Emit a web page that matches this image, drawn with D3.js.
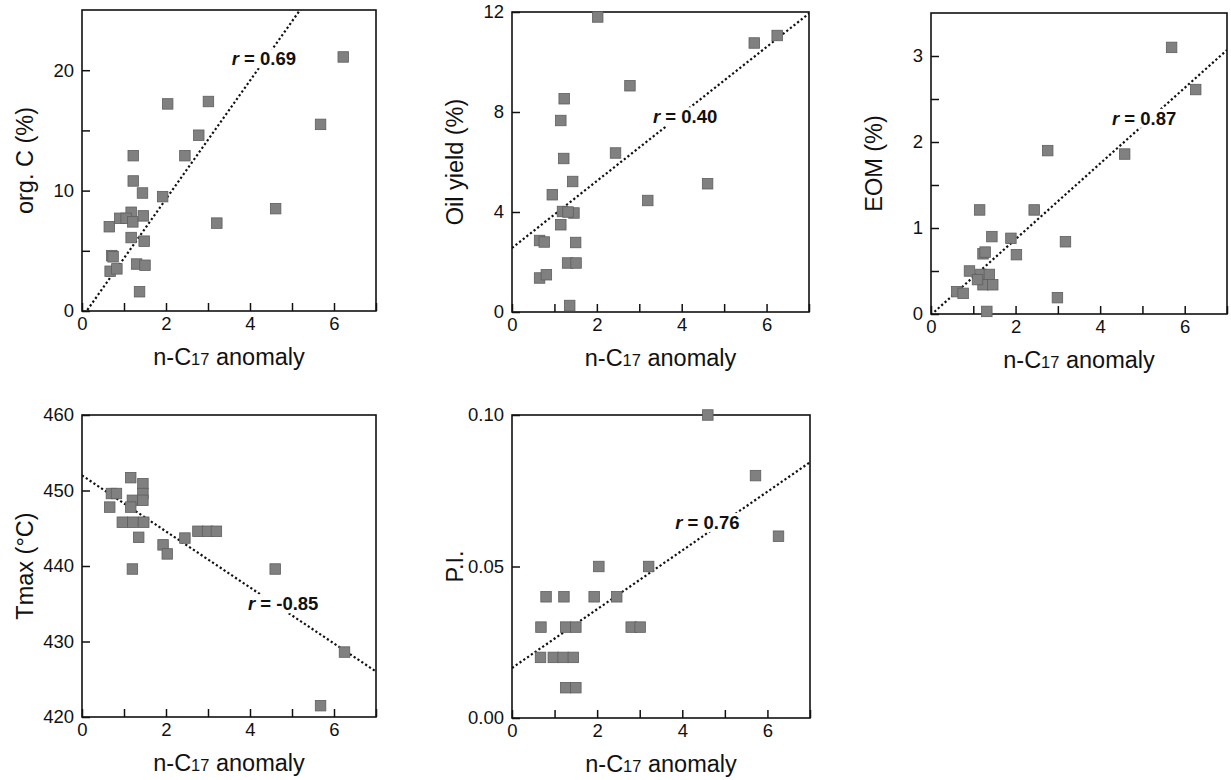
<!DOCTYPE html>
<html><head><meta charset="utf-8">
<script src="https://cdn.jsdelivr.net/npm/d3@7"></script>
<style>
body{margin:0;background:#fff}
svg{display:block}
text{font-family:"Liberation Sans",Arial,Helvetica,sans-serif;fill:#111}
</style>
</head><body>
<svg id="chart" width="1231" height="780"></svg>
<script>
// ---------- DATA ----------
const orgCAnomaly = [6.22,5.68,4.61,3.21,3.01,2.78,2.45,2.04,1.92,1.22,1.22,1.44,1.17,0.90,1.05,1.21,1.46,0.65,1.17,1.48,0.71,0.74,0.67,0.83,1.30,1.50,1.37];
const orgCValues  = [21.1,15.5,8.5,7.3,17.4,14.6,12.9,17.2,9.5,12.9,10.8,9.8,8.2,7.7,7.7,7.4,7.9,7.0,6.1,5.8,4.6,4.5,3.3,3.5,3.9,3.8,1.6];

const oilAnomaly = [2.02,5.71,6.25,2.78,1.23,1.15,2.44,1.22,1.43,4.61,0.95,3.20,1.19,1.46,1.32,1.15,0.65,0.76,1.50,1.31,1.51,0.65,0.81,1.36];
const oilValues  = [11.8,10.76,11.06,9.05,8.53,7.66,6.36,6.14,5.22,5.13,4.69,4.46,4.02,3.96,4.0,3.49,2.86,2.80,2.78,1.96,1.96,1.36,1.49,0.26];

const eomAnomaly = [5.69,6.26,4.58,2.76,2.44,1.15,1.44,1.89,3.18,1.23,1.28,2.02,0.91,1.18,1.38,1.23,1.46,1.10,0.61,0.76,2.99,1.32];
const eomValues  = [3.10,2.61,1.86,1.90,1.21,1.21,0.90,0.88,0.84,0.70,0.72,0.69,0.50,0.46,0.46,0.34,0.34,0.40,0.26,0.24,0.19,0.03];

const tmaxAnomaly = [1.16,1.45,1.45,0.70,0.82,0.66,1.20,1.45,1.16,0.96,1.21,1.47,1.35,1.93,2.03,2.45,2.76,2.99,3.20,1.20,4.60,6.25,5.68];
const tmaxValues  = [451.7,450.9,449.6,449.6,449.6,447.8,448.7,448.7,447.8,445.8,445.8,445.8,443.8,442.8,441.6,443.7,444.6,444.6,444.6,439.6,439.6,428.6,421.5];

const piAnomaly = [4.60,5.72,6.26,2.04,3.21,0.80,1.22,1.93,2.46,0.68,1.26,1.50,2.80,3.01,0.67,0.97,1.20,1.44,1.26,1.50];
const piValues  = [0.10,0.08,0.06,0.05,0.05,0.04,0.04,0.04,0.04,0.03,0.03,0.03,0.03,0.03,0.02,0.02,0.02,0.02,0.01,0.01];

// regression lines: [intercept, slope]
const fitOrgC = [-0.54, 4.92];
const fitOil  = [2.56, 1.34];
const fitEom  = [-0.01, 0.44];
const fitTmax = [452, -3.71];
const fitPi   = [0.0165, 0.0097];

const rValues = ["0.69","0.40","0.87","-0.85","0.76"];
const yTitles = ["org. C (%)","Oil yield (%)","EOM (%)","Tmax (°C)","P.I."];

const xTickValues = [0,1,2,3,4,5,6,7];
const xTickLabels = [0,2,4,6];
const yTicksOrgC = [0,5,10,15,20];  const yLabelsOrgC = [0,10,20];
const yTicksOil  = [0,4,8,12];      const yLabelsOil  = [0,4,8,12];
const yTicksEom  = [0,0.5,1,1.5,2,2.5,3]; const yLabelsEom = [0,1,2,3];
const yTicksTmax = [420,430,440,450,460]; const yLabelsTmax = [420,430,440,450,460];
const yTicksPi   = [0,0.05,0.10];   const yLabelsPi = [0,0.05,0.10];

// ---------- LAYOUT ----------
const panels = [
  {xs:orgCAnomaly, ys:orgCValues, fit:fitOrgC, r:rValues[0], title:yTitles[0], left:82, top:10, w:294, h:301, yDom:[0,25], yTicks:yTicksOrgC, yLabels:yLabelsOrgC, fmt:d=>d, lab:[4.33,20.96]},
  {xs:oilAnomaly, ys:oilValues, fit:fitOil, r:rValues[1], title:yTitles[1], left:512, top:12, w:297, h:300, yDom:[0,12], yTicks:yTicksOil, yLabels:yLabelsOil, fmt:d=>d, lab:[4.08,7.81]},
  {xs:eomAnomaly, ys:eomValues, fit:fitEom, r:rValues[2], title:yTitles[2], left:931, top:13, w:296, h:301, yDom:[0,3.5], yTicks:yTicksEom, yLabels:yLabelsEom, fmt:d=>d, lab:[5.04,2.275]},
  {xs:tmaxAnomaly, ys:tmaxValues, fit:fitTmax, r:rValues[3], title:yTitles[3], left:82, top:415, w:294, h:302, yDom:[420,460], yTicks:yTicksTmax, yLabels:yLabelsTmax, fmt:d=>d, lab:[4.79,435]},
  {xs:piAnomaly, ys:piValues, fit:fitPi, r:rValues[4], title:yTitles[4], left:512, top:415, w:298, h:303, yDom:[0,0.1], yTicks:yTicksPi, yLabels:yLabelsPi, fmt:d3.format(".2f"), lab:[4.59,0.0645]}
];

const svg = d3.select("#chart");
const TICK_FONT = 18.5, TITLE_FONT = 23.5, R_FONT = 18.5;

panels.forEach((p, i) => {
  const g = svg.append("g").attr("transform", `translate(${p.left},${p.top})`);
  const x = d3.scaleLinear().domain([0,7]).range([0,p.w]);
  const y = d3.scaleLinear().domain(p.yDom).range([p.h,0]);

  g.append("clipPath").attr("id","clip"+i).append("rect").attr("width",p.w).attr("height",p.h);

  const xAxis = d3.axisBottom(x).tickValues(xTickValues).tickSize(-8).tickSizeOuter(0)
    .tickPadding(6).tickFormat(d => xTickLabels.includes(d) ? d : "");
  const gx = g.append("g").attr("transform",`translate(0,${p.h})`).call(xAxis);
  gx.select(".domain").remove();
  gx.selectAll("line").attr("stroke","#111").attr("stroke-width",1.5);
  gx.selectAll("text").attr("font-size",TICK_FONT).attr("fill","#111").attr("font-family",null);

  const yAxis = d3.axisLeft(y).tickValues(p.yTicks).tickSize(-8).tickSizeOuter(0)
    .tickPadding(8).tickFormat(d => p.yLabels.some(v=>Math.abs(v-d)<1e-9) ? p.fmt(d) : "");
  const gy = g.append("g").call(yAxis);
  gy.select(".domain").remove();
  gy.selectAll("line").attr("stroke","#111").attr("stroke-width",1.5);
  gy.selectAll("text").attr("font-size",TICK_FONT).attr("fill","#111").attr("font-family",null);

  g.append("rect").attr("width",p.w).attr("height",p.h).attr("fill","none")
    .attr("stroke","#111").attr("stroke-width",1.6);

  g.append("line").attr("clip-path",`url(#clip${i})`)
    .attr("x1",x(0)).attr("y1",y(p.fit[0]))
    .attr("x2",x(7)).attr("y2",y(p.fit[0]+p.fit[1]*7))
    .attr("stroke","#111").attr("stroke-width",2.2).attr("stroke-dasharray","2.2,2.4");

  const lg = g.append("g");
  const t = lg.append("text").attr("x",x(p.lab[0])).attr("y",y(p.lab[1]))
    .attr("text-anchor","middle").attr("dy","0.35em")
    .attr("font-size",R_FONT).attr("font-weight","bold");
  t.append("tspan").attr("font-style","italic").text("r");
  t.append("tspan").text(" = " + p.r);
  const bb = t.node().getBBox();
  lg.insert("rect","text").attr("x",bb.x-2).attr("y",bb.y+1).attr("width",bb.width+4).attr("height",bb.height-2).attr("fill","#fff");

  g.append("g").selectAll("rect").data(p.xs.map((d,k)=>[d,p.ys[k]])).join("rect")
    .attr("x",d=>x(d[0])-5.25).attr("y",d=>y(d[1])-5.25).attr("width",10.5).attr("height",10.5)
    .attr("fill","#808080").attr("stroke","#5e5e5e").attr("stroke-width",0.8);

  const xt = g.append("text").attr("x",p.w/2).attr("y",p.h+54).attr("text-anchor","middle")
    .attr("font-size",TITLE_FONT);
  xt.append("tspan").text("n-C");
  xt.append("tspan").attr("font-size",TITLE_FONT*0.7).text("17");
  xt.append("tspan").text(" anomaly");

  g.append("text").attr("transform",`translate(${-49},${p.h/2}) rotate(-90)`)
    .attr("text-anchor","middle").attr("font-size",TITLE_FONT).text(p.title);
});
</script>
</body></html>
